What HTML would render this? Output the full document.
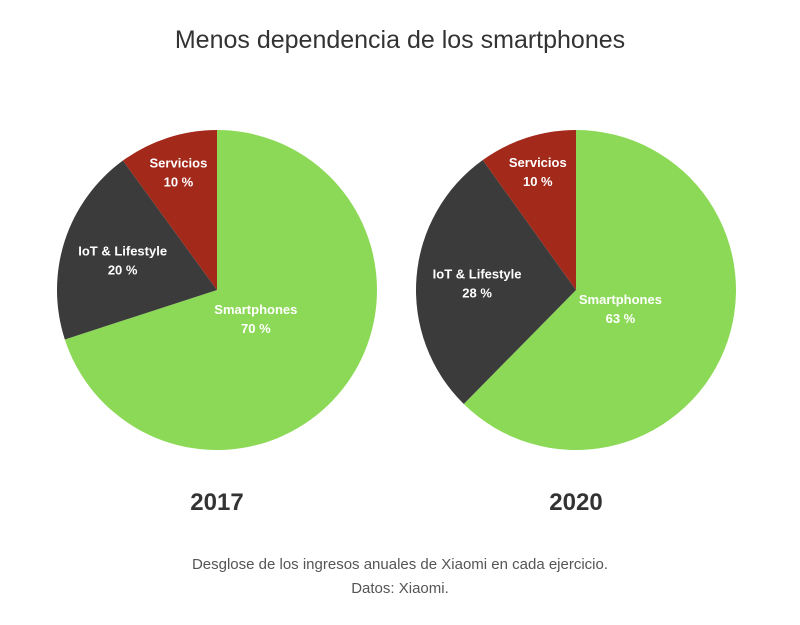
<!DOCTYPE html>
<html><head><meta charset="utf-8"><style>
body{margin:0;background:#fff;width:800px;height:620px;overflow:hidden;font-family:"Liberation Sans",sans-serif}
</style></head><body>
<svg id="chart" width="800" height="620" xmlns="http://www.w3.org/2000/svg">
<text x="400" y="48" text-anchor="middle" font-size="25" fill="#333">Menos dependencia de los smartphones</text>
<text x="217" y="510" text-anchor="middle" font-size="24" font-weight="bold" fill="#333">2017</text>
<text x="576" y="510" text-anchor="middle" font-size="24" font-weight="bold" fill="#333">2020</text>
<text x="400" y="569" text-anchor="middle" font-size="15" fill="#555">Desglose de los ingresos anuales de Xiaomi en cada ejercicio.</text>
<text x="400" y="593" text-anchor="middle" font-size="15" fill="#555">Datos: Xiaomi.</text>
<g id="pies"></g>
</svg>
<script>
const categories = ["Smartphones", "IoT & Lifestyle", "Servicios"];
const years = ["2017", "2020"];
const values2017 = [70, 20, 10];
const values2020 = [63, 28, 10];
const colors = ["#8cd957", "#3b3b3b", "#a3291b"];
const labelR = [0.3, 0.62, 0.78];
const NS = "http://www.w3.org/2000/svg";
const g = document.getElementById("pies");
function drawPie(vals, cx, cy, R, year) {
  const total = vals.reduce((a, b) => a + b, 0);
  let start = 0;
  vals.forEach((v, i) => {
    const a0 = start / total * 2 * Math.PI, a1 = (start + v) / total * 2 * Math.PI;
    start += v;
    const x0 = cx + R * Math.sin(a0), y0 = cy - R * Math.cos(a0);
    const x1 = cx + R * Math.sin(a1), y1 = cy - R * Math.cos(a1);
    const large = (a1 - a0) > Math.PI ? 1 : 0;
    const p = document.createElementNS(NS, "path");
    p.setAttribute("d", `M${cx},${cy} L${x0},${y0} A${R},${R} 0 ${large} 1 ${x1},${y1} Z`);
    p.setAttribute("fill", colors[i]);
    
    
    g.appendChild(p);
    const am = (a0 + a1) / 2, r = R * labelR[i];
    const lx = cx + r * Math.sin(am), ly = cy - r * Math.cos(am);
    const t = document.createElementNS(NS, "text");
    t.setAttribute("x", lx); t.setAttribute("y", ly - 4);
    t.setAttribute("text-anchor", "middle");
    t.setAttribute("font-size", "13"); t.setAttribute("font-weight", "bold"); t.setAttribute("fill", "#fff");
    
    
    const s1 = document.createElementNS(NS, "tspan");
    s1.setAttribute("x", lx); s1.textContent = categories[i];
    const s2 = document.createElementNS(NS, "tspan");
    s2.setAttribute("x", lx); s2.setAttribute("dy", "19"); s2.textContent = v + " %";
    t.appendChild(s1); t.appendChild(s2);
    g.appendChild(t);
  });
}
drawPie(values2017, 217, 290, 160, years[0]);
drawPie(values2020, 576, 290, 160, years[1]);
</script>
</body></html>
